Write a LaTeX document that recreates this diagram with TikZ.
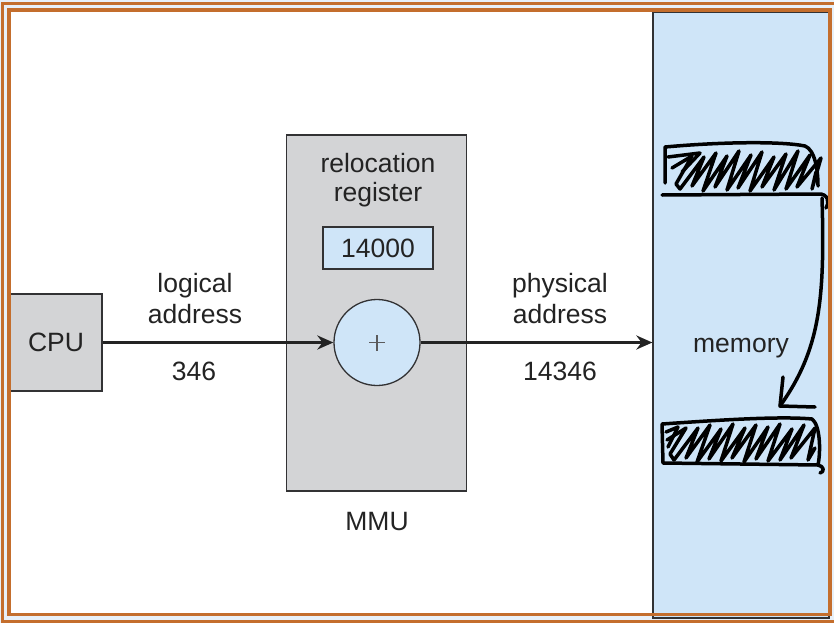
\documentclass[tikz,border=0pt]{standalone}
\usepackage{fontspec}
\setmainfont{Liberation Sans}
\usetikzlibrary{arrows.meta}
\definecolor{frameor}{RGB}{196,110,45}
\definecolor{gapc}{RGB}{232,240,248}
\definecolor{lblue}{RGB}{207,229,248}
\definecolor{lgray}{RGB}{211,212,214}
\definecolor{edgec}{RGB}{50,50,52}
\definecolor{txt}{RGB}{35,35,35}
\begin{document}
\begin{tikzpicture}[x=1pt,y=-1pt,
  every node/.style={font=\fontsize{26.5}{31}\selectfont, text=txt, inner sep=0pt},
  box/.style={draw=edgec, line width=1.3pt, fill=lgray, rectangle},
  bluebox/.style={draw=edgec, line width=1.3pt, fill=lblue, rectangle},
  lbl/.style={anchor=base},
  arr/.style={draw=txt, line width=3pt, -{Stealth[length=16pt,width=14pt]}},
  scr/.style={draw=black, line width=3.5pt, line cap=round, line join=round},
  frameline/.style={draw=frameor, line width=3.8pt}]
\useasboundingbox (0,0) rectangle (834,623);
\fill[gapc] (0,0) rectangle (834,623);
\draw[frameline] (2.5,3.5) rectangle (845,621.5);
\fill[white] (8.7,9.7) rectangle (829.7,614.5);
% memory
\node[bluebox, minimum width=176, minimum height=606] (mem) at (741,315) {};
\node[lbl] (memlabel) at (741,352) {memory};
% CPU
\node[box, minimum width=92, minimum height=97] (cpu) at (56,342.5) {CPU};
% MMU
\node[box, minimum width=180, minimum height=356] (mmu) at (376.5,313) {};
\node[lbl] (mmulabel) at (377,530) {MMU};
\node[lbl] (reloc) at (378,172) {relocation};
\node[lbl] (regname) at (378,201) {register};
\node[bluebox, minimum width=110, minimum height=42] (reg) at (378,248) {14000};
\node[bluebox, circle, minimum size=86] (adder) at (377,342.5) {};
\draw[edgec!80, line width=1.2pt] ([xshift=-8pt]adder.center) -- ([xshift=8pt]adder.center)
  ([yshift=-8pt]adder.center) -- ([yshift=8pt]adder.center);
% labels
\node[lbl] (log1) at (195,292) {logical};
\node[lbl] (log2) at (195,323) {address};
\node[lbl] (lognum) at (194,380) {346};
\node[lbl] (phy1) at (560,292) {physical};
\node[lbl] (phy2) at (560,323) {address};
\node[lbl] (phynum) at (560,380) {14346};
% arrows
\draw[arr] (cpu.east) -- (adder.west);
\draw[arr] (adder.east) -- (adder.east -| mem.west);
% scribble top
\draw[scr] (665,183) -- (665,147) .. controls (720,142) and (780,141) .. (805,146)
  .. controls (815,150) and (818,170) .. (818,186);
\draw[scr] (662,195) -- (818,194) .. controls (828,193) and (830,203) .. (826,208);
\draw[scr] (672,168) -- (692,156) -- (676,184)
  \foreach \x/\a/\b in {680/0/2, 692/-3/-2, 703/2/1, 715/-2/-4, 727/1/0, 738/-1/-3, 750/2/2, 762/-2/-1, 774/1/-4, 786/0/0, 797/-2/3}
  { -- (\x,{189+\a}) -- ({\x+24},{155+\b}) }
  -- (812,189) -- (816,172);
\draw[scr] (668,157) -- (700,153) -- (682,172);
% scribble bottom
\draw[scr] (663,463) -- (662,424) .. controls (720,420) and (780,416) .. (812,419)
  .. controls (820,425) and (821,450) .. (818,465) -- (663,463);
\draw[scr] (818,465) .. controls (824,466) and (825,472) .. (820,473);
\draw[scr] (667,440) -- (686,428) -- (670,454)
  \foreach \x/\a/\b in {674/0/1, 686/-2/-2, 697/2/2, 709/-1/-3, 721/1/1, 732/-2/-2, 744/2/0, 756/-1/-3, 768/1/2, 780/0/-2, 791/-2/1}
  { -- (\x,{460+\a}) -- ({\x+24},{427+\b}) }
  -- (808,460) -- (815,448);
\draw[scr] (666,432) -- (678,427) -- (668,447);
% curved arrow
\coordinate (cstart) at (822,198);
\coordinate (cend) at (780,406);
\draw[scr] (cstart) .. controls (825,300) and (820,350) .. (cend);
\draw[scr] (783,377) -- (cend) -- (815,407);
% inner frame line
\draw[frameline] (8.7,9.7) rectangle (829.7,614.5);
\end{tikzpicture}
\end{document}
